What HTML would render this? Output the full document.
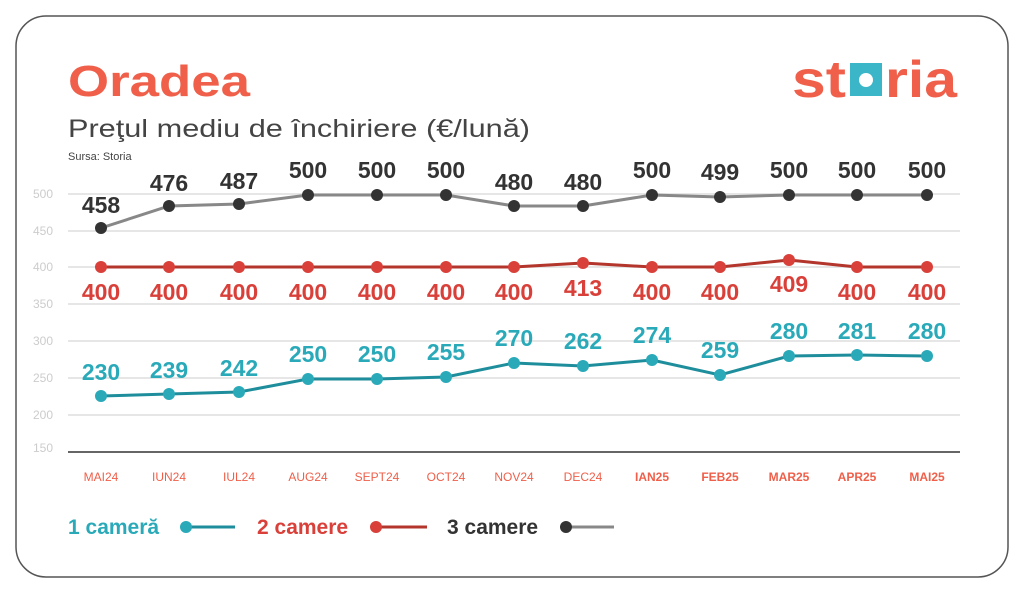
<!DOCTYPE html>
<html><head><meta charset="utf-8"><style>
body{margin:0;background:#fff;width:1024px;height:593px;overflow:hidden;font-family:"Liberation Sans","DejaVu Sans",sans-serif}
</style></head><body>
<svg width="1024" height="593" viewBox="0 0 1024 593" xmlns="http://www.w3.org/2000/svg" font-family="Liberation Sans, DejaVu Sans, sans-serif">
<rect x="16" y="16" width="992" height="561" rx="30" fill="#fff" stroke="#555" stroke-width="1.5"/>
<text x="68" y="96" font-size="44" font-weight="bold" fill="#ef5f4a" textLength="182" lengthAdjust="spacingAndGlyphs">Oradea</text>
<text x="68" y="137" font-size="25" fill="#444" textLength="462" lengthAdjust="spacingAndGlyphs">Preţul mediu de închiriere (€/lună)</text>
<text x="68" y="160" font-size="11" fill="#444">Sursa: Storia</text>
<text x="792" y="97" font-size="52" font-weight="bold" fill="#ef5f4a" textLength="54" lengthAdjust="spacingAndGlyphs">st</text>
<rect x="850" y="63" width="32" height="33" fill="#3ab6c8"/><circle cx="866" cy="80" r="7" fill="#fff"/>
<text x="885" y="97" font-size="52" font-weight="bold" fill="#ef5f4a" textLength="72" lengthAdjust="spacingAndGlyphs">ria</text>
<g stroke="#ddd" stroke-width="1.5">
<line x1="68" y1="194" x2="960" y2="194"/><line x1="68" y1="231" x2="960" y2="231"/><line x1="68" y1="267" x2="960" y2="267"/><line x1="68" y1="304" x2="960" y2="304"/><line x1="68" y1="341" x2="960" y2="341"/><line x1="68" y1="378" x2="960" y2="378"/><line x1="68" y1="415" x2="960" y2="415"/>
</g>
<line x1="68" y1="452" x2="960" y2="452" stroke="#333" stroke-width="1.5"/>
<g font-size="12" fill="#ccc">
<text x="33" y="198">500</text><text x="33" y="235">450</text><text x="33" y="271">400</text><text x="33" y="308">350</text><text x="33" y="345">300</text><text x="33" y="382">250</text><text x="33" y="419">200</text><text x="33" y="452">150</text>
</g>
<g font-size="12" fill="#ef5f4a" text-anchor="middle">
<text x="101" y="481">MAI24</text><text x="169" y="481">IUN24</text><text x="239" y="481">IUL24</text><text x="308" y="481">AUG24</text><text x="377" y="481">SEPT24</text><text x="446" y="481">OCT24</text><text x="514" y="481">NOV24</text><text x="583" y="481">DEC24</text>
<g font-weight="bold"><text x="652" y="481">IAN25</text><text x="720" y="481">FEB25</text><text x="789" y="481">MAR25</text><text x="857" y="481">APR25</text><text x="927" y="481">MAI25</text></g>
</g>
<polyline fill="none" stroke="#888" stroke-width="3" points="101,228 169,206 239,204 308,195 377,195 446,195 514,206 583,206 652,195 720,197 789,195 857,195 927,195"/>
<g fill="#333"><circle cx="101" cy="228" r="6"/><circle cx="169" cy="206" r="6"/><circle cx="239" cy="204" r="6"/><circle cx="308" cy="195" r="6"/><circle cx="377" cy="195" r="6"/><circle cx="446" cy="195" r="6"/><circle cx="514" cy="206" r="6"/><circle cx="583" cy="206" r="6"/><circle cx="652" cy="195" r="6"/><circle cx="720" cy="197" r="6"/><circle cx="789" cy="195" r="6"/><circle cx="857" cy="195" r="6"/><circle cx="927" cy="195" r="6"/></g>
<g font-size="23" font-weight="bold" fill="#333" text-anchor="middle">
<text x="101" y="213">458</text><text x="169" y="191">476</text><text x="239" y="189">487</text><text x="308" y="178">500</text><text x="377" y="178">500</text><text x="446" y="178">500</text><text x="514" y="190">480</text><text x="583" y="190">480</text><text x="652" y="178">500</text><text x="720" y="180">499</text><text x="789" y="178">500</text><text x="857" y="178">500</text><text x="927" y="178">500</text>
</g>
<polyline fill="none" stroke="#b3352b" stroke-width="3" points="101,267 169,267 239,267 308,267 377,267 446,267 514,267 583,263 652,267 720,267 789,260 857,267 927,267"/>
<g fill="#d9403a"><circle cx="101" cy="267" r="6"/><circle cx="169" cy="267" r="6"/><circle cx="239" cy="267" r="6"/><circle cx="308" cy="267" r="6"/><circle cx="377" cy="267" r="6"/><circle cx="446" cy="267" r="6"/><circle cx="514" cy="267" r="6"/><circle cx="583" cy="263" r="6"/><circle cx="652" cy="267" r="6"/><circle cx="720" cy="267" r="6"/><circle cx="789" cy="260" r="6"/><circle cx="857" cy="267" r="6"/><circle cx="927" cy="267" r="6"/></g>
<g font-size="23" font-weight="bold" fill="#d9403a" text-anchor="middle">
<text x="101" y="300">400</text><text x="169" y="300">400</text><text x="239" y="300">400</text><text x="308" y="300">400</text><text x="377" y="300">400</text><text x="446" y="300">400</text><text x="514" y="300">400</text><text x="583" y="296">413</text><text x="652" y="300">400</text><text x="720" y="300">400</text><text x="789" y="292">409</text><text x="857" y="300">400</text><text x="927" y="300">400</text>
</g>
<polyline fill="none" stroke="#1f8e9c" stroke-width="3" points="101,396 169,394 239,392 308,379 377,379 446,377 514,363 583,366 652,360 720,375 789,356 857,355 927,356"/>
<g fill="#2aaab9"><circle cx="101" cy="396" r="6"/><circle cx="169" cy="394" r="6"/><circle cx="239" cy="392" r="6"/><circle cx="308" cy="379" r="6"/><circle cx="377" cy="379" r="6"/><circle cx="446" cy="377" r="6"/><circle cx="514" cy="363" r="6"/><circle cx="583" cy="366" r="6"/><circle cx="652" cy="360" r="6"/><circle cx="720" cy="375" r="6"/><circle cx="789" cy="356" r="6"/><circle cx="857" cy="355" r="6"/><circle cx="927" cy="356" r="6"/></g>
<g font-size="23" font-weight="bold" fill="#2aaab9" text-anchor="middle">
<text x="101" y="380">230</text><text x="169" y="378">239</text><text x="239" y="376">242</text><text x="308" y="362">250</text><text x="377" y="362">250</text><text x="446" y="360">255</text><text x="514" y="346">270</text><text x="583" y="349">262</text><text x="652" y="343">274</text><text x="720" y="358">259</text><text x="789" y="339">280</text><text x="857" y="339">281</text><text x="927" y="339">280</text>
</g>
<g font-size="21" font-weight="bold">
<text x="68" y="534" fill="#2aaab9">1 cameră</text>
<line x1="186" y1="527" x2="235" y2="527" stroke="#1f8e9c" stroke-width="3"/><circle cx="186" cy="527" r="6" fill="#2aaab9"/>
<text x="257" y="534" fill="#d9403a">2 camere</text>
<line x1="376" y1="527" x2="427" y2="527" stroke="#b3352b" stroke-width="3"/><circle cx="376" cy="527" r="6" fill="#d9403a"/>
<text x="447" y="534" fill="#333">3 camere</text>
<line x1="566" y1="527" x2="614" y2="527" stroke="#888" stroke-width="3"/><circle cx="566" cy="527" r="6" fill="#333"/>
</g>
</svg>
</body></html>
